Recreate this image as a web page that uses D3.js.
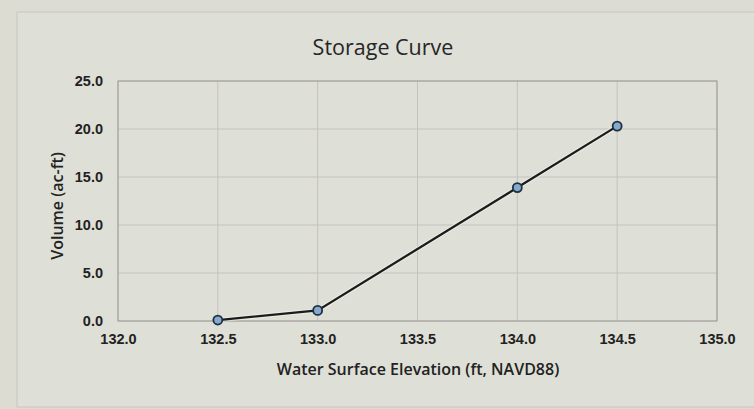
<!DOCTYPE html>
<html>
<head>
<meta charset="utf-8">
<title>Storage Curve</title>
<script src="https://d3js.org/d3.v7.min.js"></script>
<style>
  body { margin: 0; background: #dcdcd3; }
  svg { display: block; font-family: "Open Sans", sans-serif; }
  .tick text { fill: #222; font-size: 14.5px; font-weight: 600; }
</style>
</head>
<body>
<div id="chart"></div>
<script>
// data
var elevations = [132.5, 133.0, 134.0, 134.5];
var volumes = [0.1, 1.1, 13.9, 20.3];
var xTicks = [132.0, 132.5, 133.0, 133.5, 134.0, 134.5, 135.0];
var yTicks = [0, 5, 10, 15, 20, 25];

var width = 754, height = 409;
var margin = { top: 81, right: 37, bottom: 88, left: 118 };
var w = width - margin.left - margin.right,
    h = height - margin.top - margin.bottom;

var svg = d3.select("#chart").append("svg")
  .attr("width", width)
  .attr("height", height);

// faint outer border of the chart area
svg.append("rect")
  .attr("x", 17).attr("y", 12)
  .attr("width", width - 10).attr("height", 395)
  .attr("fill", "#dedfd6")
  .attr("stroke", "#c9c4c0");

var x = d3.scaleLinear().domain([132, 135]).range([0, w]);
var y = d3.scaleLinear().domain([0, 25]).range([h, 0]);

var g = svg.append("g")
  .attr("transform", "translate(" + margin.left + "," + margin.top + ")");

// gridlines
g.selectAll(".hgrid").data(yTicks).enter().append("line")
  .attr("x1", 0).attr("x2", w)
  .attr("y1", function (d) { return y(d); })
  .attr("y2", function (d) { return y(d); })
  .attr("stroke", "#c6c1be").attr("stroke-width", 1);
g.selectAll(".vgrid").data(xTicks).enter().append("line")
  .attr("y1", 0).attr("y2", h)
  .attr("x1", function (d) { return x(d); })
  .attr("x2", function (d) { return x(d); })
  .attr("stroke", "#c6c1be").attr("stroke-width", 1);

// plot border
g.append("rect")
  .attr("width", w).attr("height", h)
  .attr("fill", "none")
  .attr("stroke", "#9f9996").attr("stroke-width", 1);

// axes (labels only)
var xAxis = g.append("g")
  .attr("transform", "translate(0," + h + ")")
  .call(d3.axisBottom(x).tickValues(xTicks).tickFormat(d3.format(".1f")).tickSize(0).tickPadding(13));
xAxis.select(".domain").remove();

var yAxis = g.append("g")
  .call(d3.axisLeft(y).tickValues(yTicks).tickFormat(d3.format(".1f")).tickSize(0).tickPadding(15));
yAxis.select(".domain").remove();

// line
var line = d3.line()
  .x(function (d, i) { return x(elevations[i]); })
  .y(function (d) { return y(d); });

g.append("path")
  .datum(volumes)
  .attr("fill", "none")
  .attr("stroke", "#f4f4ee")
  .attr("stroke-width", 4.5)
  .attr("stroke-opacity", 0.6)
  .attr("d", line);
g.append("path")
  .datum(volumes)
  .attr("fill", "none")
  .attr("stroke", "#1c1c1c")
  .attr("stroke-width", 2.3)
  .attr("d", line);

// markers
g.selectAll(".dot").data(volumes).enter().append("circle")
  .attr("cx", function (d, i) { return x(elevations[i]); })
  .attr("cy", function (d) { return y(d); })
  .attr("r", 4.5)
  .attr("fill", "#86a9cc")
  .attr("stroke", "#1d3144")
  .attr("stroke-width", 1.8);

// title
svg.append("text")
  .attr("x", 383).attr("y", 55)
  .attr("text-anchor", "middle")
  .attr("fill", "#262626")
  .style("font-size", "21.5px")
  .text("Storage Curve");

// axis titles
svg.append("text")
  .attr("x", 418).attr("y", 375)
  .attr("text-anchor", "middle")
  .attr("fill", "#222")
  .style("font-size", "16px")
  .style("font-weight", "600")
  .text("Water Surface Elevation (ft, NAVD88)");

svg.append("text")
  .attr("transform", "translate(63,206) rotate(-90)")
  .attr("text-anchor", "middle")
  .attr("fill", "#222")
  .style("font-size", "16px")
  .style("font-weight", "600")
  .text("Volume (ac-ft)");
</script>
</body>
</html>
